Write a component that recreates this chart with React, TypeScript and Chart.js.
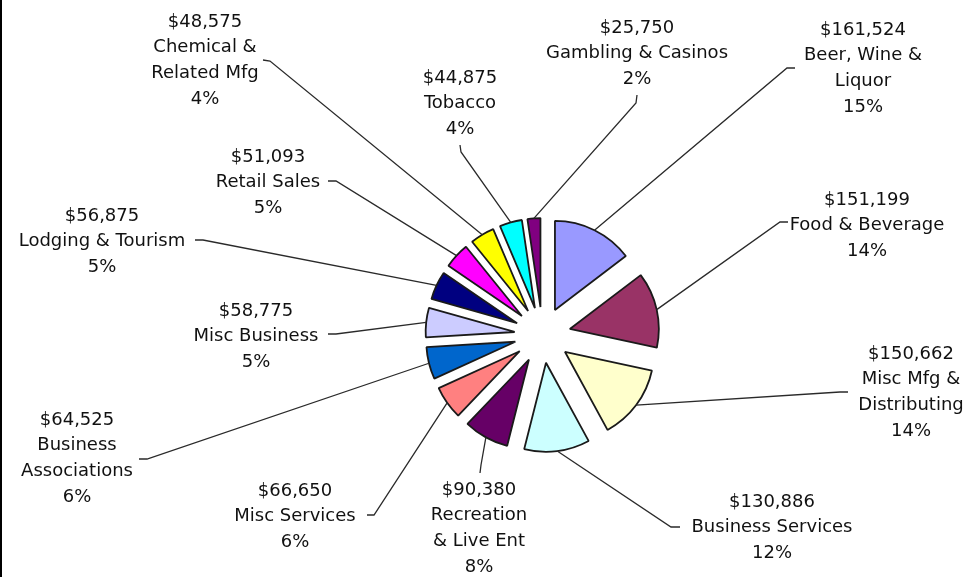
import React, { useEffect, useRef } from "react";
import { Chart, registerables } from "chart.js";

Chart.register(...registerables);

// ---- data ----
const categories = [
  "Beer, Wine &\nLiquor",
  "Food & Beverage",
  "Misc Mfg &\nDistributing",
  "Business Services",
  "Recreation\n& Live Ent",
  "Misc Services",
  "Business\nAssociations",
  "Misc Business",
  "Lodging & Tourism",
  "Retail Sales",
  "Chemical &\nRelated Mfg",
  "Tobacco",
  "Gambling & Casinos",
];
const values = [161524, 151199, 150662, 130886, 90380, 66650, 64525, 58775, 56875, 51093, 48575, 44875, 25750];
const colors = [
  "#9999FF", "#993366", "#FFFFCC", "#CCFFFF", "#660066", "#FF8080", "#0066CC",
  "#CCCCFF", "#000080", "#FF00FF", "#FFFF00", "#00FFFF", "#800080",
];

// ---- label layout (text block centre x, first line centre y, leader anchor, tick end) ----
const labelLayout = [
  { x: 863, y: 28, ax: 795, ay: 68, tx: 787, ty: 68 },
  { x: 867, y: 198, ax: 788, ay: 222, tx: 780, ty: 222 },
  { x: 911, y: 352, ax: 848, ay: 392, tx: 840, ty: 392 },
  { x: 772, y: 500, ax: 680, ay: 527, tx: 671, ty: 527 },
  { x: 479, y: 488, ax: 480, ay: 473, tx: 481, ty: 465 },
  { x: 295, y: 489, ax: 367, ay: 515, tx: 374, ty: 515 },
  { x: 77, y: 418, ax: 139, ay: 459, tx: 147, ty: 459 },
  { x: 256, y: 309, ax: 328, ay: 334, tx: 336, ty: 334 },
  { x: 102, y: 214, ax: 195, ay: 240, tx: 203, ty: 240 },
  { x: 268, y: 155, ax: 328, ay: 181, tx: 336, ty: 181 },
  { x: 205, y: 20, ax: 263, ay: 60, tx: 270, ty: 61 },
  { x: 460, y: 76, ax: 460, ay: 145, tx: 461, ty: 152 },
  { x: 637, y: 26, ax: 637, ay: 95, tx: 636, ty: 103 },
];

const EXPLODE = 28;
const LINE_H = 25.7;
const FONT = '18px "DejaVu Sans"';

const total = values.reduce((a, b) => a + b, 0);

const piePlugin = {
  id: "explodedPie",
  beforeDraw(chart: any) {
    const ctx = chart.ctx;
    ctx.save();
    ctx.fillStyle = "#ffffff";
    ctx.fillRect(0, 0, chart.width, chart.height);
    ctx.restore();
  },
  beforeDatasetDraw(chart: any, args: any) {
    const ctx = chart.ctx;
    args.meta.data.forEach((el: any) => {
      const p = el.getProps(["startAngle", "endAngle"]);
      const mid = (p.startAngle + p.endAngle) / 2;
      ctx.save();
      ctx.translate(Math.cos(mid) * EXPLODE, Math.sin(mid) * EXPLODE);
      el.draw(ctx);
      ctx.restore();
    });
    return false;
  },
  afterDraw(chart: any) {
    const ctx = chart.ctx;
    const meta = chart.getDatasetMeta(0);
    ctx.save();
    // leader lines
    ctx.strokeStyle = "#2a2a2a";
    ctx.lineWidth = 1.3;
    meta.data.forEach((el: any, i: number) => {
      const p = el.getProps(["x", "y", "startAngle", "endAngle", "outerRadius"]);
      const mid = (p.startAngle + p.endAngle) / 2;
      const r = p.outerRadius + EXPLODE;
      const sx = p.x + Math.cos(mid) * r;
      const sy = p.y + Math.sin(mid) * r;
      const L = labelLayout[i];
      ctx.beginPath();
      ctx.moveTo(sx, sy);
      ctx.lineTo(L.tx, L.ty);
      ctx.lineTo(L.ax, L.ay);
      ctx.stroke();
    });
    // labels
    ctx.font = FONT;
    ctx.fillStyle = "#111111";
    ctx.textAlign = "center";
    ctx.textBaseline = "alphabetic";
    values.forEach((v, i) => {
      const L = labelLayout[i];
      const lines = [
        "$" + v.toLocaleString("en-US"),
        ...categories[i].split("\n"),
        Math.round((v / total) * 100) + "%",
      ];
      lines.forEach((t, k) => {
        ctx.fillText(t, L.x, L.y + k * LINE_H + 6.5);
      });
    });
    // left frame edge
    ctx.fillStyle = "#000000";
    ctx.fillRect(0, 0, 2, chart.height);
    ctx.restore();
  },
};

export default function App() {
  const ref = useRef<HTMLCanvasElement | null>(null);
  useEffect(() => {
    document.body.style.margin = "0";
    document.body.style.overflow = "hidden";
    const canvas = ref.current;
    if (!canvas) return;
    const chart = new Chart(canvas, {
      type: "pie",
      data: {
        labels: categories.map((c) => c.replace("\n", " ")),
        datasets: [
          {
            data: values,
            backgroundColor: colors,
            borderColor: "#1a1a1a",
            borderWidth: 1.8,
            offset: 0,
            hoverOffset: 0,
          },
        ],
      },
      options: {
        responsive: false,
        animation: false,
        events: [],
        radius: 89,
        layout: { padding: { left: 342, right: 232, top: 135, bottom: 42 } },
        plugins: { legend: { display: false }, tooltip: { enabled: false } },
      } as any,
      plugins: [piePlugin as any],
    });
    return () => chart.destroy();
  }, []);
  return (
    <div style={{ width: 975, height: 577 }}>
      <canvas ref={ref} width={975} height={577} style={{ display: "block" }} />
    </div>
  );
}
